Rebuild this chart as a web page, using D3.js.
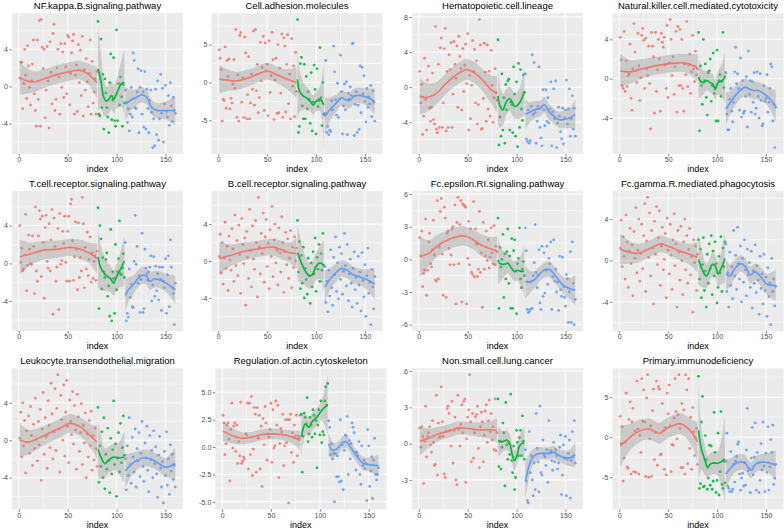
<!DOCTYPE html>
<html><head><meta charset="utf-8">
<script src="https://cdn.jsdelivr.net/npm/d3@7"></script>
<style>body{margin:0;background:#fff} svg{display:block}</style>
</head><body>
<svg id="c" width="784" height="531"></svg>
<script>
const titles = ["NF.kappa.B.signaling.pathway","Cell.adhesion.molecules","Hematopoietic.cell.lineage","Natural.killer.cell.mediated.cytotoxicity","T.cell.receptor.signaling.pathway","B.cell.receptor.signaling.pathway","Fc.epsilon.RI.signaling.pathway","Fc.gamma.R.mediated.phagocytosis","Leukocyte.transendothelial.migration","Regulation.of.actin.cytoskeleton","Non.small.cell.lung.cancer","Primary.immunodeficiency"];
const xTicks = [0, 50, 100, 150];
const yTicks = [[-4,0,4],[-5,0,5],[-4,0,4,8],[-4,0,4],[-4,0,4],[-4,0,4],[-6,-3,0,3,6],[-4,0,4],[-4,0,4],[-5,-2.5,0,2.5,5],[-3,0,3,6],[-5,0,5]];

// ---- panel 1 NF.kappa.B
const p1Red = [0.9,2.6,2.6,-2.4,0.3,4.0,1.2,-1.3,4.4,2.2, -0.1,-2.0,0.6,2.4,5.0,-0.8,-2.6,-4.3,5.0,-1.4, 7.1,-4.3,7.2,4.2,1.9,4.0,-3.4,-0.4,4.3,0.6, -4.5,4.8,1.5,-1.9,5.7,6.7,-2.6,-1.4,2.0,4.0, 1.0,-3.0,4.6,-0.1,3.7,-1.2,4.6,2.1,-0.8,5.5, 5.3,-2.0,1.4,3.6,4.9,5.6,-3.0,1.2,2.3,-2.7, 4.5,0.4,3.9,-1.0,5.4,-3.2,1.8,-0.4,3.0,0.5, -2.2,1.4,5.0,-3.0,2.7,-1.8,-0.6,0.8,-3.0,1.6];
const p1Green = [7.0,-3.0,-3.2,5.1,-2.3,1.3,-4.6,0.8,-0.7,-2.3, -3.3,-5.0,0.4,3.5,-3.6,-1.5,3.1,-3.7,-4.3,6.1, -3.7,0.3,-2.0,1.0,-1.1,-4.3,0.2,-1.8];
const p1Blue = [-0.4,-1.7,-3.9,-2.4,-4.8,-3.0,-0.1,-3.3,3.6,2.8, -2.3,-2.4,-0.6,1.9,-5.0,-0.1,1.7,-3.0,-0.6,-4.4, 1.6,-4.6,-0.3,-2.4,-5.0,-1.5,-0.4,-2.8,-6.6,-3.5, -6.4,-0.3,-5.2,0.6,-5.8,-3.5,1.3,-2.9,-0.2,-6.0, -1.9,0.1,-2.7,-3.3,-1.0,-4.2,0.4,-2.1,-3.8,-1.2, -2.6,-2.9];
const p1FitR = [[1,0.9,1.8],[8,0.6,1.4],[16,0.5,1.1],[28,0.9,1.0],[40,1.3,1.0],[52,1.6,1.0],[62,1.75,1.0],[70,1.4,1.1],[80,0.4,1.7]];
const p1FitG = [[81,1.9,4.5],[84,0.6,3.0],[87,-1.2,2.0],[89.5,-1.6,1.6],[92,-1.4,1.5],[95,-1.0,1.5],[97,-1.4,1.5],[100,-0.8,1.6],[105,0.3,2.5],[108,0.4,3.6]];
const p1FitB = [[109,-1.9,1.8],[114,-1.5,1.2],[120,-1.2,0.9],[126,-0.9,0.8],[131,-1.2,0.8],[136,-2.3,0.8],[142,-2.6,0.8],[151,-2.6,1.0],[160,-2.6,1.6]];

// ---- panel 2 Cell.adhesion
const p2Red = [4.3,3.2,1.7,-5.1,-2.2,-2.4,4.7,-3.4,2.9,0.8, 3.1,-3.5,-2.1,-2.7,-0.2,3.0,-0.8,7.0,-4.6,1.0, -5.1,6.2,6.6,-2.6,0.6,-4.6,6.0,3.9,-4.8,-1.6, 3.4,-4.8,-2.7,1.1,-0.9,6.8,-3.0,7.0,-1.1,2.4, -4.0,-2.0,5.3,0.2,2.0,6.1,-3.7,5.2,1.5,2.4, -4.4,5.5,-1.3,0.9,6.6,3.0,-4.9,0.3,3.2,-4.1, 5.0,-4.0,1.9,-1.4,6.4,-4.6,5.9,4.8,-3.9,2.4, 6.3,-2.8,1.1,-4.8,5.8,-0.5,2.2,-4.5,4.0,-1.2];
const p2Green = [8.3,-6.6,-5.8,2.5,3.3,-3.1,-4.8,2.4,-4.8,0.8, -3.5,-1.2,-2.2,-5.4,1.3,-6.4,-2.6,2.3,-0.9,-6.8, 1.8,-3.2,-2.4,4.6,-2.0,-5.7,0.0,-4.2];
const p2Blue = [-4.1,2.9,-6.6,-5.8,-6.9,-6.3,-6.5,-2.4,-3.6,4.8, 1.4,-2.3,-4.3,-0.1,-4.6,-2.2,3.6,-1.2,-6.8,-3.1, -0.2,-3.6,0.1,-6.9,-1.4,-2.2,-0.6,-1.7,5.1,5.2, -7.0,-2.9,-1.2,-6.6,-3.0,-6.2,2.2,-4.0,2.0,-1.5, 0.9,-2.5,-5.2,-0.8,-3.3,-1.9,-2.8,-0.4,-4.5,-1.1, -2.6,-5.1];
const p2FitR = [[1,0.45,1.9],[10,0.3,1.4],[19,0.2,1.2],[33,0.7,1.1],[50,1.5,1.1],[60,1.0,1.1],[70,0.45,1.3],[80,0.0,2.0]];
const p2FitG = [[81,0.4,5.5],[83,-1.1,2.8],[87,-1.8,1.8],[90,-2.0,1.5],[94,-2.5,1.3],[97,-3.0,1.3],[100,-2.5,1.3],[104,-2.2,1.6],[108,-3.0,5.6]];
const p2FitB = [[109,-4.5,2.5],[114,-3.6,1.6],[121,-2.7,1.1],[126,-2.0,1.0],[129,-2.2,1.0],[134,-2.4,1.0],[139,-1.8,1.0],[144,-1.7,1.0],[151,-1.9,1.1],[160,-2.5,1.7]];

// ---- panel 3 Hematopoietic
const p3Red = [1.8,-1.8,0.3,-5.4,-3.3,3.3,-1.4,-4.9,0.8,2.4, -2.4,-3.9,-2.3,1.6,-3.7,-4.2,6.9,-4.8,-5.2,2.6, -4.6,4.5,5.6,-4.6,-1.8,4.4,6.7,-5.0,1.8,-4.6, 3.7,2.0,5.1,-4.6,-0.8,5.2,2.6,1.0,4.7,-2.3, 5.8,3.5,2.1,-2.6,4.4,-0.5,2.5,4.9,0.4,6.1, -4.9,1.3,-3.6,0.2,5.3,1.8,4.3,-1.8,3.0,-4.2, -2.0,7.7,4.8,-4.8,-4.7,-1.3,5.0,1.7,-3.9,4.8, -2.5,1.8,-3.3,4.2,0.2,-4.0,-1.2,2.1,-0.6,-1.5];
const p3Green = [5.4,-6.6,-3.4,-5.6,1.5,-4.9,-1.2,-6.4,0.3,-2.6, 0.7,0.9,-4.9,-1.7,-2.0,-5.2,2.3,-0.8,-5.6,0.6, -6.8,2.7,-4.6,2.0,-2.5,-3.8,1.4,-0.6];
const p3Blue = [1.5,-5.9,-6.2,-2.6,-6.4,-6.1,-2.2,3.7,-3.1,2.8, -2.9,-6.4,-3.9,-2.2,2.3,-4.6,-5.8,-6.7,-0.3,-2.6, -4.4,-0.3,-3.9,-1.2,-4.1,-2.5,0.6,-6.7,-2.8,-0.2, -3.6,0.7,-6.9,-4.1,-2.3,-3.3,-5.1,-5.9,-2.4,-6.5, -3.5,-2.6,0.8,-4.2,-2.5,-0.2,-5.6,-3.6,-1.0,-4.8, -2.4,-5.6];
const p3FitR = [[1,-1.0,2.1],[7,-1.2,1.7],[17,-0.8,1.3],[27,0.3,1.2],[37,1.3,1.2],[49,2.0,1.2],[57,1.6,1.2],[66,0.7,1.3],[74,-0.3,1.6],[80,-0.8,2.1]];
const p3FitG = [[81,-1.0,3.2],[82.5,-2.0,2.6],[86,-2.6,1.8],[89,-1.8,1.5],[92.6,-1.3,1.4],[95,-1.6,1.4],[98,-2.2,1.4],[101.7,-2.0,1.6],[105,-1.4,2.0],[108,-0.5,2.8]];
const p3FitB = [[109,-3.1,1.7],[113,-2.9,1.2],[118,-2.6,1.0],[124.6,-2.4,0.9],[128,-2.0,0.9],[133,-2.8,0.9],[138,-3.3,0.9],[143,-3.7,0.9],[148,-3.7,1.0],[155,-3.5,1.2],[160,-3.1,1.7]];

// ---- panel 4 Natural.killer
const p4Red = [4.2,1.9,-0.7,-1.0,4.8,-1.3,1.8,-0.8,0.3,0.5, 3.5,-2.0,-3.2,1.0,5.6,2.7,0.8,-0.4,4.6,1.3, -2.2,0.1,4.4,5.1,3.9,-1.0,4.1,1.0,0.3,3.3, -0.5,-5.1,4.7,3.3,2.2,-3.5,4.7,-1.3,0.9,4.0, 2.0,-3.3,4.6,3.7,3.2,4.2,1.4,-1.0,5.4,-1.9, 1.6,6.0,4.0,0.3,2.2,-1.6,1.2,4.8,-3.4,5.3, -0.7,5.0,-0.7,4.0,-1.0,-3.3,1.5,0.4,5.8,-0.8, 1.4,2.5,-1.5,0.7,4.4,1.0,-0.3,2.8,0.4,1.0];
const p4Green = [4.7,-5.3,1.3,-0.7,-2.6,4.0,-0.2,1.5,-1.9,-3.7, 0.6,0.8,2.0,-2.3,-0.7,2.6,-1.5,-0.9,-4.3,2.9, -4.3,-0.2,0.4,-1.8,-0.3,4.7,-0.9,0.2];
const p4Blue = [0.6,-3.6,-5.2,-5.2,-2.1,-1.0,-3.3,-4.4,-2.4,0.7, 3.2,-0.5,0.5,-1.0,-3.2,2.1,-3.9,-0.2,-3.5,-3.3, -1.8,0.2,-4.9,2.8,-1.6,-0.2,-3.4,-0.3,-2.4,0.6, -3.6,-3.0,0.7,-1.8,-4.0,0.5,-2.2,-4.8,-4.6,-0.7, -2.3,-2.0,0.4,-3.4,-2.4,-1.0,1.5,1.2,-4.3,-2.6, -7.0,-2.9];
const p4FitR = [[1,0.8,1.7],[11,0.7,1.2],[23,1.0,1.0],[37,1.3,0.9],[50,1.5,0.9],[62,1.6,0.9],[71,1.5,1.0],[80,1.1,1.4]];
const p4FitG = [[81,0.2,2.1],[82.6,-0.2,1.7],[86,-0.4,1.2],[89.4,-0.2,1.0],[93,-0.4,1.0],[96,-0.6,1.0],[98,-1.1,1.0],[101,-0.4,1.2],[105,-0.2,1.7],[108,0.1,2.6]];
const p4FitB = [[109,-3.1,1.7],[113,-2.5,1.2],[118,-1.8,1.0],[123.5,-1.2,0.9],[129,-0.85,0.9],[132,-1.0,0.9],[137,-1.2,0.9],[142,-1.2,0.9],[147,-1.45,0.9],[152.6,-1.9,1.0],[160,-2.8,1.6]];

// ---- panel 5 T.cell
const p5Red = [4.0,0.1,1.6,-0.8,-0.6,0.9,5.2,-2.9,-0.2,3.0, 1.5,0.0,-0.1,2.9,1.8,-3.2,6.0,-0.8,-1.9,2.9, 5.6,4.7,-1.4,5.0,2.2,-3.7,3.8,5.1,0.2,-0.5, 4.2,-0.8,2.5,5.7,-5.4,4.8,1.8,-1.9,-0.4,3.7, -4.9,5.3,-0.1,0.3,3.4,2.1,5.0,0.1,-1.9,3.4, 5.0,-1.9,6.3,6.8,2.4,-1.8,0.7,4.4,1.5,-2.8, 4.3,-1.5,0.6,-0.8,7.0,4.2,-2.6,1.7,-0.6,3.3, -1.3,0.4,2.8,-2.0,1.1,-1.6,0.2,0.8,-1.8,1.3];
const p5Green = [5.9,-4.8,4.0,2.6,-2.7,0.6,-0.9,-1.5,0.4,1.1, -3.5,-2.4,-5.6,3.6,-6.1,-0.9,-1.6,-5.3,2.0,-2.8, -0.9,0.5,4.5,-1.1,-1.2,-0.5,1.0,-1.5];
const p5Blue = [2.2,-6.1,-5.3,-5.7,-0.6,-3.6,-2.2,-4.6,-4.7,0.2, 5.1,-0.1,1.8,-2.1,-1.3,-5.2,-1.7,3.2,-5.2,-4.8, 1.5,-0.5,-1.1,-1.8,-0.9,-0.4,0.8,-4.0,-2.3,0.7, -3.5,-0.3,-2.9,-1.1,-3.9,-0.4,-1.7,-5.0,-0.4,-1.9, -2.6,0.5,-5.3,-1.2,0.8,-4.6,2.5,-0.4,-2.6,-3.2, -6.5,-2.1];
const p5FitR = [[1,0.7,1.8],[12,1.0,1.2],[26,1.4,1.0],[40,1.5,0.9],[53,1.7,0.9],[63,1.5,1.0],[72,1.1,1.1],[80,0.5,1.6]];
const p5FitG = [[81,0.7,3.2],[83.4,-0.35,2.5],[88.5,-1.2,1.7],[93.6,-1.6,1.4],[97,-2.1,1.3],[100,-1.4,1.4],[103.7,-0.7,1.8],[108,0.25,2.7]];
const p5FitB = [[109,-3.4,1.7],[112,-2.8,1.3],[117,-2.3,1.0],[122,-1.6,0.9],[127,-1.25,0.9],[131,-1.4,0.9],[134,-1.9,0.9],[139,-1.65,0.9],[144,-1.75,0.9],[151,-2.1,1.0],[160,-2.8,1.5]];

// ---- panel 6 B.cell
const p6Red = [0.5,2.9,-1.3,2.0,-2.5,0.3,4.2,-0.8,1.6,-3.2, 2.7,0.1,-1.0,3.5,1.3,-2.2,5.0,-0.5,2.2,-1.6, 3.9,0.7,-3.5,4.6,1.8,-0.3,2.5,-4.8,3.2,0.4, -1.9,5.6,1.1,-2.8,3.8,0.2,-0.9,4.4,2.0,-3.9, 6.9,1.5,-1.4,3.0,0.8,5.2,-2.3,2.6,4.5,-0.6, 1.9,-3.0,3.4,0.5,5.9,-1.7,2.3,4.0,-0.2,1.2, -2.6,3.6,0.9,-1.2,4.8,2.0,-3.4,1.0,3.1,-0.4, 2.4,-1.9,0.3,3.3,-2.9,1.5,-0.7,2.6,0.0,1.4];
const p6Green = [4.4,-1.2,2.1,-3.0,0.6,-2.4,1.5,-4.0,-0.8,-2.0, -3.6,0.3,-1.6,-4.6,-0.2,-2.8,1.0,-1.4,2.5,-3.3, 0.4,-0.9,1.8,-2.2,0.8,-1.0,3.0,-0.5];
const p6Blue = [-0.6,-4.5,-2.2,-5.5,-1.0,-3.8,1.2,-2.9,-4.8,0.4, -1.5,2.6,-3.3,-0.2,-4.1,1.5,-2.0,0.8,-3.6,-1.1, 3.0,-0.5,-2.7,1.8,-4.3,-1.4,0.2,-2.4,-5.0,-0.8, 1.0,-3.1,-1.8,-4.6,0.5,-2.6,-1.2,-5.4,0.9,-2.1, -3.9,-0.4,-6.0,-1.6,1.4,-3.5,-2.3,-6.9,-0.9,-2.8, -5.2,-1.7];
const p6FitR = [[1,0.3,1.8],[12,0.6,1.2],[25,1.0,1.0],[40,1.3,0.9],[55,1.5,0.9],[65,1.2,1.0],[73,0.9,1.1],[80,0.8,1.6]];
const p6FitG = [[81,0.9,3.0],[85,-0.2,2.2],[89,-1.1,1.6],[93,-1.6,1.4],[96,-1.5,1.4],[100,-0.6,1.5],[104,-0.2,1.8],[108,-0.5,2.8]];
const p6FitB = [[109,-2.8,1.8],[114,-2.0,1.2],[120,-1.3,1.0],[126,-0.8,0.9],[132,-1.0,0.9],[138,-1.5,0.9],[144,-1.7,0.9],[152,-2.0,1.1],[160,-2.5,1.7]];

// ---- panel 7 Fc.epsilon
const p7Red = [2.0,0.3,2.6,-2.5,-1.3,-1.0,3.7,-3.3,-1.0,1.6, 2.4,-0.4,-0.7,0.9,3.6,0.4,-1.9,-2.0,5.4,-1.8, 1.1,4.4,5.6,0.5,-3.3,4.8,3.8,-3.5,2.4,2.6, 1.0,-0.5,0.4,2.8,3.0,-0.5,5.0,-4.1,3.4,5.7, -0.4,3.2,5.4,-3.9,5.1,5.0,4.9,4.8,-4.1,0.1, 3.5,-0.5,2.8,-1.2,-1.4,5.3,-1.6,2.8,1.4,-1.6, -0.9,4.4,-1.2,0.6,-4.4,3.4,-0.9,0.3,2.6,-0.1, 1.8,-0.8,0.2,2.9,0.6,-0.4,3.1,-0.5,1.2,0.7];
const p7Green = [3.8,-4.5,1.1,-0.7,0.0,2.3,-3.5,0.5,-1.8,0.7, 2.8,-2.2,0.3,-4.5,1.9,-4.5,0.8,1.8,-1.1,-5.0, -0.4,0.1,2.9,-1.8,-2.6,-0.9,-0.2,-1.5];
const p7Blue = [2.9,0.8,-4.6,-4.9,-4.8,-4.6,-2.0,-4.5,-1.5,-0.3, 3.2,-1.2,-2.6,-1.5,0.9,-4.0,-4.6,1.2,-3.4,0.6, -3.1,-1.0,1.2,-2.3,0.1,-0.4,1.6,-4.6,-1.6,1.8, -2.0,-0.9,-3.0,-2.1,-4.7,0.3,-2.8,-3.4,0.2,-2.5, -3.5,-4.3,-1.4,-1.8,-5.8,-3.0,0.7,-5.8,1.6,-2.2, -6.0,-3.7];
const p7FitR = [[1,0.25,1.9],[10,0.55,1.2],[20,1.3,1.0],[30,1.8,0.9],[40,2.1,0.9],[47,2.15,0.9],[54,1.9,0.9],[64,1.3,1.0],[74,0.95,1.1],[80,0.75,1.4]];
const p7FitG = [[81,-0.05,2.2],[82.5,-0.35,1.8],[87.6,-0.45,1.1],[91,-0.35,0.9],[94,-0.7,0.9],[97.6,-1.1,0.9],[101,-1.0,1.0],[104.5,-1.1,1.4],[108,-1.1,2.3]];
const p7FitB = [[109,-2.0,1.6],[113,-2.1,1.1],[118,-1.9,0.8],[123,-1.4,0.7],[128,-1.0,0.7],[133,-0.9,0.7],[138,-1.3,0.7],[143,-1.9,0.7],[148,-2.4,0.8],[155,-2.7,1.0],[160,-2.85,1.4]];

// ---- panel 8 Fc.gamma
const p8Red = [1.2,3.9,-0.6,2.3,0.4,-1.8,4.4,1.8,-2.6,0.9, 3.1,-0.3,1.5,-3.4,2.8,0.2,5.1,-1.2,1.0,4.0, -2.0,0.7,3.5,-0.8,2.4,5.5,-3.0,1.9,6.1,0.3, 4.6,-1.5,2.9,1.2,-4.2,3.8,0.6,5.2,-0.4,2.2, 4.8,-2.4,1.4,3.2,-0.9,0.1,2.6,-3.6,4.1,1.0, -1.3,3.5,0.5,-2.8,2.0,4.5,-0.5,1.6,-4.5,2.9, 0.8,-1.9,3.3,0.0,-3.3,1.8,4.0,-0.9,2.4,-2.2, 1.1,3.1,-1.4,0.4,-5.0,2.0,-0.2,1.4,-2.9,0.6];
const p8Green = [2.0,-1.8,1.1,-3.6,-0.4,2.2,-2.9,-1.0,-4.5,0.6, -2.2,1.6,-0.8,2.4,-3.3,0.9,-1.5,1.8,-0.3,-4.1, -2.6,0.4,-1.2,2.3,-3.0,1.2,-0.6,1.8];
const p8Blue = [1.6,-3.0,-1.2,-4.5,0.8,-2.4,-0.6,-3.7,2.9,-1.5, 0.5,-2.8,3.2,-0.3,-1.8,1.4,-4.0,0.2,-2.1,2.0, -0.9,-3.4,1.1,-1.4,-0.2,-2.6,0.9,-4.6,-1.0,-2.2, 1.5,-3.1,-0.5,-1.9,-5.2,0.4,-2.7,-1.3,-4.2,0.6, -2.9,-1.6,-5.4,-0.7,-3.5,-2.2,-6.2,0.2,-3.0,-1.8, -4.4,-2.5];
const p8FitR = [[1,1.1,1.5],[10,0.8,1.1],[20,0.7,0.9],[32,1.2,0.8],[42,1.6,0.8],[52,1.3,0.8],[62,0.9,0.9],[72,0.6,1.0],[80,0.3,1.5]];
const p8FitG = [[81,0.1,2.4],[85,-0.9,1.7],[89,-1.5,1.2],[92,-1.0,1.1],[95,-0.4,1.1],[98,-0.5,1.1],[101,-1.3,1.2],[104,-0.8,1.5],[108,0.2,2.4]];
const p8FitB = [[109,-1.3,1.5],[113,-1.5,1.1],[118,-0.8,0.9],[124,-0.3,0.8],[129,-0.6,0.8],[134,-1.4,0.8],[139,-1.1,0.8],[145,-1.6,0.9],[151,-2.3,1.0],[160,-2.4,1.5]];

// ---- panel 9 Leukocyte
const p9Red = [0.2,3.0,-1.8,4.0,-0.6,2.1,-3.5,1.0,-0.2,2.6, -1.4,3.6,0.5,-2.7,1.7,-0.9,4.5,0.1,-2.2,2.0, -0.5,3.3,-4.3,1.2,5.1,-1.5,2.4,0.4,-3.0,4.2, 1.6,-0.8,6.1,2.8,-2.0,0.9,5.5,-1.1,3.4,7.0, 1.2,-3.4,4.8,2.2,0.0,5.9,-1.7,3.0,6.4,1.5, -2.4,4.3,2.0,0.6,5.2,-0.4,3.7,1.1,-3.1,4.9, 2.5,-1.2,0.8,3.9,-2.6,1.6,-0.3,2.9,-4.0,0.7, -1.8,2.1,-0.6,3.1,-3.2,0.5,-2.1,1.3,-0.9,-2.8];
const p9Green = [3.5,-4.5,-0.6,-2.8,0.9,-4.0,2.4,-5.2,-1.5,-3.1, 1.3,-2.2,-5.6,0.2,-3.6,-1.0,4.2,-2.6,-0.4,-6.0, -1.9,0.8,-3.4,1.8,-2.4,-0.8,2.6,-1.6];
const p9Blue = [-2.0,-5.3,-0.6,-3.8,2.4,-2.6,-4.6,0.3,-1.8,-3.4, 1.2,-5.0,-0.9,-2.2,0.8,-3.9,-1.4,2.0,-2.8,-4.4, -0.3,-1.9,1.5,-3.2,-5.5,0.5,-2.1,-1.1,-4.0,1.0, -2.5,-0.7,-3.6,-6.1,-1.6,0.4,-3.0,-5.0,-2.3,-6.7, -1.2,-3.8,0.9,-4.8,-2.0,-5.8,-0.5,-3.3,-1.5,-4.2, -2.7,-5.0];
const p9FitR = [[1,0.0,1.8],[10,-0.2,1.3],[20,0.2,1.1],[30,0.7,1.0],[42,1.3,1.0],[52,1.8,1.0],[60,1.6,1.0],[68,1.0,1.1],[76,0.2,1.4],[80,-0.2,1.8]];
const p9FitG = [[81,-1.0,3.0],[84,-1.8,2.3],[88,-2.5,1.6],[92,-2.1,1.4],[97,-1.8,1.4],[102,-1.9,1.6],[108,-1.8,2.8]];
const p9FitB = [[109,-3.3,1.8],[114,-2.7,1.3],[120,-2.2,1.0],[127,-1.9,0.9],[135,-2.0,0.9],[142,-2.4,0.9],[150,-2.9,1.0],[160,-2.5,1.7]];

// ---- panel 10 Regulation.of.actin
const p10Red = [2.9,2.2,-0.7,0.3,2.0,2.2,0.7,-3.1,1.6,4.0, -0.1,1.9,2.2,-0.4,2.0,-1.5,0.5,-0.8,4.1,-1.5, -1.3,-0.9,-1.1,1.2,1.1,4.0,-2.0,4.0,-0.7,4.6, -2.6,-0.2,3.6,3.0,-2.3,3.6,0.8,2.9,-2.0,1.9, -3.6,2.6,0.2,3.7,2.2,-1.2,1.2,0.9,1.6,4.0, -1.4,3.4,-0.1,0.1,4.2,2.0,3.8,-2.8,0.3,1.7, 1.4,3.0,-1.7,0.1,2.5,0.4,2.5,-5.1,2.5,3.0, -0.5,1.3,-1.4,2.0,1.0,2.9,-0.8,1.0,0.8,2.9];
const p10Green = [3.0,-2.3,1.0,3.1,2.7,2.1,4.5,0.5,1.2,2.7, 2.0,0.9,3.4,2.9,1.2,2.4,-1.9,2.0,3.4,1.1, 4.2,0.4,1.4,1.1,4.2,5.5,3.8,5.8];
const p10Blue = [2.4,1.8,-0.7,0.3,-1.1,-0.6,-5.0,-0.6,-2.7,-0.8, -2.7,-3.2,2.5,-3.1,0.2,-3.9,-0.3,1.1,1.0,2.8, -2.5,0.6,-1.1,0.3,2.2,1.8,1.3,-0.5,-2.1,-0.5, -0.8,0.5,-2.5,-3.4,0.1,-1.7,-1.2,-2.0,-1.5,-4.9, 1.6,0.1,-3.6,-2.2,-0.9,-4.7,-1.2,0.8,-2.5,-3.0, -2.5,-1.9];
const p10FitR = [[1,1.45,0.9],[10,1.05,0.7],[20,0.8,0.55],[31,0.9,0.5],[41,1.15,0.5],[51,1.2,0.5],[61,1.15,0.5],[72,0.9,0.6],[80,0.6,0.9]];
const p10FitG = [[81,0.9,1.6],[83,1.7,1.3],[85,2.1,1.0],[89,1.8,0.8],[92,2.3,0.8],[97,2.75,0.8],[102,3.35,0.9],[108,3.9,2.7]];
const p10FitB = [[109,0.3,1.1],[112.6,-0.3,0.8],[116,-0.25,0.6],[119.5,0.0,0.55],[124,0.45,0.55],[128,0.4,0.55],[132,-0.1,0.55],[137,-0.75,0.55],[143,-1.4,0.55],[150,-1.6,0.6],[160,-1.7,1.0]];

// ---- panel 11 Non.small.cell.lung.cancer
const p11Red = [1.3,-0.3,1.4,0.6,-3.3,0.2,3.1,-1.1,0.6,0.9, 1.4,-0.1,-0.7,1.9,0.1,-1.8,-1.7,4.0,-2.6,1.7, 0.5,0.6,4.7,1.8,0.6,-2.5,-2.8,1.0,2.9,3.1, 2.5,1.1,-0.2,3.5,-1.6,1.1,2.2,-3.0,-3.4,4.0, 1.2,-0.2,1.6,3.2,0.9,3.5,3.7,-3.2,0.4,2.2, 2.8,5.7,1.8,-1.5,2.5,-1.2,0.9,2.2,2.4,3.1, -0.4,-2.0,1.4,2.6,1.8,-1.5,0.7,2.7,3.2,0.1, 1.9,3.6,1.0,2.5,0.3,1.4,-0.5,3.7,-0.6,0.9];
const p11Green = [3.7,-1.9,0.2,-2.1,-0.3,1.7,0.9,-3.5,3.4,-0.1, -1.3,0.1,-0.9,4.1,-1.4,-2.4,-0.2,-3.8,-2.8,1.1, 0.1,-1.0,0.5,1.1,-1.0,2.3,0.2,-1.3];
const p11Blue = [-0.5,-3.1,-4.7,-4.9,1.0,-2.4,-1.0,-3.0,-4.3,-1.6, -3.8,2.5,-0.4,-1.5,-4.0,3.1,-2.4,-2.6,0.3,-0.9, -1.1,-1.8,-0.5,-3.2,1.9,-0.8,-0.6,-1.4,-2.2,0.1, -1.5,-0.5,-1.0,-2.1,-1.6,-0.3,0.7,-4.2,-2.6,-0.1, -1.2,0.6,-4.3,-1.3,-0.8,0.3,-4.5,-1.4,1.0,-1.1, 1.9,-1.6];
const p11FitR = [[1,0.2,1.2],[10,0.45,0.8],[20,0.8,0.6],[31,1.05,0.55],[41,1.3,0.55],[51,1.25,0.55],[61,1.15,0.6],[72,1.15,0.7],[80,1.1,1.0]];
const p11FitG = [[81,0.25,1.3],[83.6,0.15,1.0],[87,0.2,0.8],[90,0.3,0.8],[93,0.0,0.8],[95.6,-0.9,0.8],[98,-1.4,0.8],[100.7,-0.9,0.8],[103,-0.2,0.9],[106.5,0.05,1.1],[108,0.0,1.5]];
const p11FitB = [[109,-3.1,1.5],[112.6,-1.9,1.0],[116,-1.2,0.7],[121,-0.85,0.55],[126,-0.8,0.5],[133,-0.8,0.5],[138,-0.7,0.5],[141.6,-0.9,0.5],[146.8,-1.1,0.55],[153.6,-1.2,0.65],[160,-0.9,1.0]];

// ---- panel 12 Primary.immunodeficiency
const p12Red = [2.6,-0.8,1.3,-5.5,-2.6,-0.6,5.5,-3.7,-3.9,2.2, 4.4,-4.6,1.9,3.6,-4.3,0.8,-4.4,7.0,1.0,-4.6, 0.2,-1.9,7.3,2.0,5.9,1.9,-4.9,4.9,7.8,-5.0, -0.2,1.4,-4.9,3.3,6.0,-2.8,0.6,7.0,-3.5,6.3, 6.0,-2.2,-2.1,4.2,0.8,-4.0,1.2,-4.7,5.5,2.9, 6.5,1.4,-4.3,-0.9,-1.0,2.4,7.3,3.2,-0.2,2.8, 7.8,1.1,-3.8,4.2,-3.8,3.4,-4.6,7.8,5.9,-3.3, 7.3,-1.4,2.5,-4.0,3.7,0.7,-2.3,-0.1,1.1,-3.4];
const p12Green = [7.6,-6.4,-5.8,1.9,5.1,-6.2,-6.1,0.2,-2.8,-6.5, -5.1,-1.0,-6.0,-1.1,-6.5,-5.5,3.1,-1.9,-6.9,-5.4, 0.5,-7.2,-4.3,3.2,-5.9,-6.4,-3.0,-5.7];
const p12Blue = [-3.0,0.5,-6.1,-6.4,-6.8,-1.8,-6.8,-6.5,-3.4,-5.6, -3.0,-2.4,-0.9,-0.6,-4.6,-6.6,-5.1,-4.5,-6.1,-3.2, -6.0,-1.6,3.6,-4.2,-3.9,-6.9,-2.6,1.2,-4.7,-2.5, 1.8,-6.6,-1.9,-3.2,-6.9,-5.4,-0.8,-4.1,1.9,-3.6, -6.8,-2.0,-4.4,1.3,-6.6,-3.7,-0.3,-1.9,1.5,-5.9, -5.1,-3.4];
const p12FitR = [[1,-1.1,2.6],[9,-0.2,1.8],[19.5,0.7,1.4],[30,1.05,1.3],[36.5,0.7,1.3],[41.6,0.5,1.3],[48,1.05,1.3],[57,1.55,1.3],[62,1.7,1.3],[69,1.25,1.4],[77.5,0.0,2.0],[80,-0.6,2.5]];
const p12FitG = [[81,0.85,6.5],[84,-1.5,2.6],[87.7,-2.9,1.8],[90.4,-3.8,1.5],[92.8,-3.4,1.4],[96,-3.2,1.4],[101,-3.25,1.6],[108,-2.7,5.5]];
const p12FitB = [[109,-4.6,1.9],[113,-4.0,1.3],[118,-3.35,1.1],[123.5,-3.1,1.0],[128.7,-3.2,1.0],[132.8,-4.0,1.0],[135.5,-4.1,1.0],[139,-3.4,1.0],[144,-3.15,1.0],[151,-3.15,1.1],[160,-3.5,1.9]];

const panels = [
  [p1Red,p1Green,p1Blue,p1FitR,p1FitG,p1FitB],
  [p2Red,p2Green,p2Blue,p2FitR,p2FitG,p2FitB],
  [p3Red,p3Green,p3Blue,p3FitR,p3FitG,p3FitB],
  [p4Red,p4Green,p4Blue,p4FitR,p4FitG,p4FitB],
  [p5Red,p5Green,p5Blue,p5FitR,p5FitG,p5FitB],
  [p6Red,p6Green,p6Blue,p6FitR,p6FitG,p6FitB],
  [p7Red,p7Green,p7Blue,p7FitR,p7FitG,p7FitB],
  [p8Red,p8Green,p8Blue,p8FitR,p8FitG,p8FitB],
  [p9Red,p9Green,p9Blue,p9FitR,p9FitG,p9FitB],
  [p10Red,p10Green,p10Blue,p10FitR,p10FitG,p10FitB],
  [p11Red,p11Green,p11Blue,p11FitR,p11FitG,p11FitB],
  [p12Red,p12Green,p12Blue,p12FitR,p12FitG,p12FitB]
].map((a,k)=>({title:titles[k], series:[a[0],a[1],a[2]], fits:[a[3],a[4],a[5]], yt:yTicks[k]}));

const groupColors = ["#F8766D","#00BA38","#619CFF"];
const FONT = "'Liberation Sans', Arial, Helvetica, sans-serif";
const svg = d3.select("#c");
const colBase = [12, 211.5, 412, 612.5];
const PW = 171;
const rowTop = [13.2, 191, 368.3], rowBot = [154, 331, 509.3];

panels.forEach((p, k) => {
  const col = k % 4, row = Math.floor(k / 4);
  const fmt = p.yt.some(t => !Number.isInteger(t)) ? (d => d.toFixed(1)) : (d => String(d));
  const tmp = svg.append("text").style("font-size","7px").style("font-family",FONT);
  let maxW = 0;
  p.yt.forEach(t => { tmp.text(fmt(t)); maxW = Math.max(maxW, tmp.node().getComputedTextLength()); });
  tmp.text("-4"); const refW = tmp.node().getComputedTextLength();
  tmp.remove();
  const left = colBase[col] + Math.max(0, maxW - refW) * 0.65;
  const top = rowTop[row], bot = rowBot[row];

  const pts = [];
  let off = 0;
  p.series.forEach((s, gi) => { s.forEach((v, i) => pts.push({x: off + i + 1, y: v, g: gi})); off += s.length; });
  const [xMin, xMax] = d3.extent(pts, d => d.x); const xPad = (xMax - xMin) * 0.05;
  const x = d3.scaleLinear().domain([xMin - xPad, xMax + xPad]).range([left, left + PW]);
  const ys = pts.map(d => d.y);
  p.fits.forEach(f => f.forEach(d => { ys.push(d[1] - d[2]); ys.push(d[1] + d[2]); }));
  const [yMin, yMax] = d3.extent(ys); const yPad = (yMax - yMin) * 0.05;
  const y = d3.scaleLinear().domain([yMin - yPad, yMax + yPad]).range([bot, top]);

  const g = svg.append("g");
  const cid = "clip" + k;
  g.append("clipPath").attr("id", cid).append("rect").attr("x", left).attr("y", top).attr("width", PW).attr("height", bot - top);
  g.append("rect").attr("x", left).attr("y", top).attr("width", PW).attr("height", bot - top).attr("fill", "#EBEBEB");

  const [d0, d1] = y.domain();
  const step = p.yt[1] - p.yt[0];
  const yMinor = [p.yt[0] - step / 2].concat(p.yt.map(t => t + step / 2)).filter(v => v > d0 && v < d1);
  const xMinor = [-25, 25, 75, 125, 175].filter(v => v > x.domain()[0] && v < x.domain()[1]);
  const grid = g.append("g").attr("clip-path", `url(#${cid})`);
  yMinor.forEach(v => grid.append("line").attr("x1", left).attr("x2", left + PW).attr("y1", y(v)).attr("y2", y(v)).attr("stroke", "#fff").attr("stroke-width", 0.5));
  xMinor.forEach(v => grid.append("line").attr("y1", top).attr("y2", bot).attr("x1", x(v)).attr("x2", x(v)).attr("stroke", "#fff").attr("stroke-width", 0.5));
  p.yt.filter(v => v > d0 && v < d1).forEach(v => grid.append("line").attr("x1", left).attr("x2", left + PW).attr("y1", y(v)).attr("y2", y(v)).attr("stroke", "#fff").attr("stroke-width", 1));
  xTicks.forEach(v => grid.append("line").attr("y1", top).attr("y2", bot).attr("x1", x(v)).attr("x2", x(v)).attr("stroke", "#fff").attr("stroke-width", 1));

  const plot = g.append("g").attr("clip-path", `url(#${cid})`);
  plot.selectAll("circle").data(pts).join("circle")
    .attr("cx", d => x(d.x)).attr("cy", d => y(d.y)).attr("r", 1.4)
    .attr("fill", d => groupColors[d.g]).attr("fill-opacity", 0.9);

  const area = d3.area().x(d => x(d[0])).y0(d => y(d[1] - d[2])).y1(d => y(d[1] + d[2])).curve(d3.curveCatmullRom);
  const line = d3.line().x(d => x(d[0])).y(d => y(d[1])).curve(d3.curveCatmullRom);
  p.fits.forEach(f => plot.append("path").attr("d", area(f)).attr("fill", "#999999").attr("fill-opacity", 0.4));
  p.fits.forEach((f, gi) => plot.append("path").attr("d", line(f)).attr("fill", "none").attr("stroke", groupColors[gi]).attr("stroke-width", 1.7));

  const ya = g.append("g").attr("transform", `translate(${left},0)`)
    .call(d3.axisLeft(y).tickValues(p.yt.filter(v => v > d0 && v < d1)).tickSize(2.5).tickPadding(1.5).tickFormat(fmt));
  const xa = g.append("g").attr("transform", `translate(0,${bot})`)
    .call(d3.axisBottom(x).tickValues(xTicks).tickSize(2.5).tickPadding(1).tickFormat(d => String(d)));
  [ya, xa].forEach(a => {
    a.select(".domain").remove();
    a.selectAll(".tick line").attr("stroke", "#333333").attr("stroke-width", 0.6);
    a.selectAll(".tick text").attr("fill", "#4D4D4D").style("font-size", "7px").style("font-family", FONT);
  });

  g.append("text").attr("x", left + PW / 2).attr("y", top - 4).attr("text-anchor", "middle")
    .style("font-size", "9.5px").style("font-family", FONT).attr("fill", "#000").text(p.title);
  g.append("text").attr("x", left + PW / 2).attr("y", bot + 18.3).attr("text-anchor", "middle")
    .style("font-size", "9px").style("font-family", FONT).attr("fill", "#000").text("index");
});
</script>
</body></html>
